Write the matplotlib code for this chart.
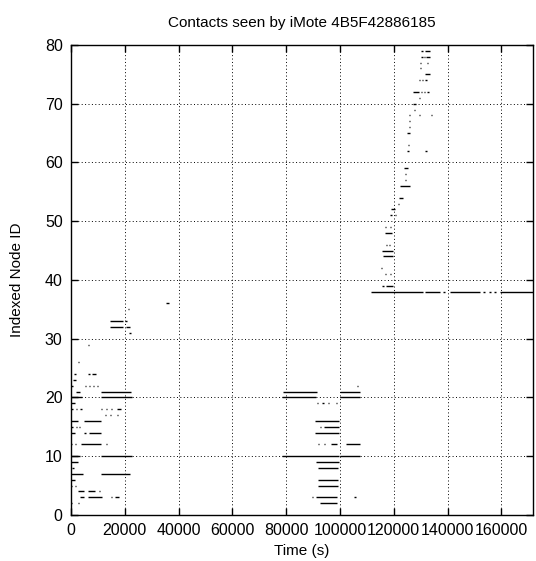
import matplotlib
matplotlib.use("Agg")
import matplotlib.pyplot as plt
from matplotlib.ticker import MultipleLocator

plt.rcParams['font.family'] = ['Liberation Sans', 'DejaVu Sans']

title = "Contacts seen by iMote 4B5F42886185"
x_label = "Time (s)"
y_label = "Indexed Node ID"
x_max = 171700
y_max = 80

# Contact periods: node index, contact start (s), contact end (s)
node = [
    36, 35, 33, 33, 32, 32, 31, 29, 26,
    24, 24, 24, 23, 22, 22, 22, 22, 22,
    21, 21, 20, 20, 19,
    18, 18, 18, 18, 18, 18, 18,
    17, 17, 17, 16, 16, 15, 15, 15,
    14, 14, 14, 12, 12, 12, 12,
    10, 10, 9, 8, 7, 7, 6, 5, 5,
    4, 4, 4, 3, 3, 3, 3, 2, 2,
    # second day
    22, 21, 21, 20, 20, 19, 19, 19, 19,
    16, 15, 15, 14, 12, 12, 12, 12,
    10, 10, 9, 8, 6, 5, 3, 3, 3, 2,
    # third period
    38, 38, 38, 38, 38, 38, 38, 38,
    39, 39, 41, 41, 42, 44, 45, 46, 46,
    48, 49, 49, 51, 51, 52, 53, 54, 56, 57, 58, 59,
    62, 62, 63, 65, 66, 67, 68, 68, 68, 69, 70, 71,
    72, 72, 72, 72, 74, 74, 74, 75, 76, 77, 77,
    78, 78, 78, 79, 79,
]
t_start = [
    35500, 21200, 14400, 20000, 14400, 20500, 21500, 6200, 2500,
    1000, 6300, 7800, 600, 0, 5200, 6600, 8000, 9600,
    1800, 11000, 0, 11000, 0,
    0, 1800, 3500, 11000, 13000, 15000, 17000,
    12500, 14500, 17000, 0, 5000, 0, 1800, 3000,
    0, 5000, 6500, 0, 1500, 3700, 13000,
    0, 11000, 0, 500, 0, 11200, 0, 0, 1500,
    2600, 6300, 10500, 3500, 6300, 15000, 16500, 0, 2600,
    106200, 79000, 100000, 78500, 100000, 91300, 93500, 95500, 98400,
    90700, 92500, 94000, 90700, 91800, 94000, 96500, 102200,
    78500, 100000, 91000, 91800, 92000, 92000, 89500, 91000, 105400, 92500,
    111500, 131800, 138200, 140900, 153100, 155500, 157300, 159500,
    115800, 117000, 116700, 118500, 115300, 116000, 115500, 117000, 118300,
    116700, 116800, 118500, 118500, 120300, 119000, 121700, 121800, 122300, 124000, 124000, 123800,
    125000, 131800, 125300, 124800, 125500, 125500, 125500, 129300, 133800, 127600, 127200, 129300,
    127000, 130000, 131200, 132500, 129300, 130600, 131800, 131700, 129700, 129700, 132300,
    130300, 131300, 132000, 130300, 131500,
]
t_end = [
    36500, 21600, 19300, 20800, 19300, 22000, 22300, 6600, 2900,
    2000, 7000, 9400, 2000, 800, 5600, 7000, 8400, 10000,
    3200, 22300, 4000, 22500, 1500,
    600, 2200, 3900, 11400, 13400, 15400, 18500,
    12900, 14900, 17500, 2500, 11200, 800, 2200, 3500,
    1500, 5400, 11200, 400, 1900, 11200, 13400,
    3500, 22500, 2500, 1000, 4600, 21800, 1500, 400, 1900,
    5000, 8900, 10900, 5000, 11400, 15400, 18000, 400, 3000,
    106600, 91500, 107400, 91000, 107400, 91700, 93900, 95900, 98800,
    99700, 93000, 99700, 99700, 92200, 94400, 98800, 107400,
    99700, 107400, 99700, 99400, 99400, 99400, 90000, 98800, 105800, 99000,
    131000, 137200, 139000, 152000, 153900, 156300, 158000, 171700,
    116300, 119700, 117100, 118900, 115700, 119700, 119700, 117400, 118700,
    119200, 117200, 118900, 119300, 120700, 120300, 122100, 123300, 126000, 124400, 124400, 125200,
    125800, 132200, 125700, 126200, 125900, 125900, 125900, 129700, 134200, 128000, 128200, 129700,
    129500, 130400, 131600, 133200, 129700, 131000, 132200, 133300, 130100, 130100, 132700,
    130700, 131700, 133400, 130700, 133400,
]

fig = plt.figure(figsize=(5.36, 5.61), dpi=100)
ax = fig.add_axes([0.1325, 0.082, 0.8615, 0.838])

ax.hlines(node, t_start, t_end, colors="black", linewidth=1.0)

ax.set_xlim(0, x_max)
ax.set_ylim(0, y_max)
ax.xaxis.set_major_locator(MultipleLocator(20000))
ax.yaxis.set_major_locator(MultipleLocator(10))

ax.grid(True, color="black", linestyle=(0, (1, 2.5)), linewidth=0.7)
ax.set_axisbelow(True)

ax.tick_params(direction="in", length=5, width=1.0, top=True, right=True,
               labelsize=11.5, pad=6)
for s in ax.spines.values():
    s.set_linewidth(1.0)

ax.set_title(title, fontsize=11, pad=13)
ax.set_xlabel(x_label, fontsize=11, labelpad=4)
ax.set_ylabel(y_label, fontsize=11, labelpad=15)

fig.savefig("out.png", dpi=100)
